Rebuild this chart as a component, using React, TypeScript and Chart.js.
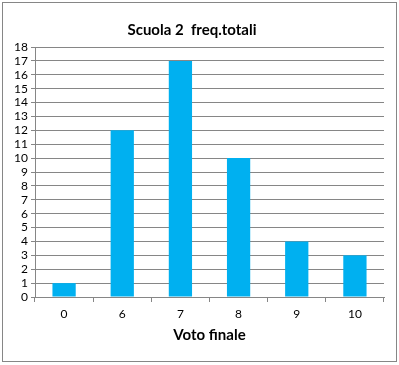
import React, { useEffect, useRef } from "react";
import { Chart, registerables } from "chart.js";

Chart.register(...registerables);

const categories = ["0", "6", "7", "8", "9", "10"];
const frequencies = [1, 12, 17, 10, 4, 3];
const chartTitle = "Scuola 2  freq.totali";
const xAxisTitle = "Voto finale";

const FONT = "Lato, 'Open Sans', sans-serif";
const GRAY = "#868686";

const borderPlugin = {
  id: "outerBorder",
  beforeDraw(chart: any) {
    const ctx = chart.ctx;
    ctx.save();
    ctx.fillStyle = "#ffffff";
    ctx.fillRect(0, 0, chart.width, chart.height);
    ctx.strokeStyle = GRAY;
    ctx.lineWidth = 1;
    ctx.strokeRect(2.5, 2.5, 394, 359);
    ctx.restore();
  },
};

export default function App() {
  const ref = useRef<HTMLCanvasElement | null>(null);
  useEffect(() => {
    if (!ref.current) return;
    const chart = new Chart(ref.current, {
      type: "bar",
      data: {
        labels: categories,
        datasets: [
          {
            data: frequencies,
            backgroundColor: "#00B0F0",
            borderWidth: 0,
            barPercentage: 0.4,
            categoryPercentage: 1,
          },
        ],
      },
      options: {
        animation: false,
        responsive: false,
        maintainAspectRatio: false,
        layout: { padding: { left: 0, right: 15, top: 0, bottom: 0 } },
        plugins: {
          legend: { display: false },
          tooltip: { enabled: false },
          title: {
            display: true,
            text: chartTitle,
            color: "#000000",
            font: { family: FONT, size: 15, weight: "bold", lineHeight: 1.2 },
            padding: { top: 21, bottom: 8 },
          },
        },
        scales: {
          x: {
            grid: {
              display: true,
              drawOnChartArea: false,
              drawTicks: true,
              tickLength: 5,
              color: GRAY,
              offset: true,
            },
            border: { display: true, color: GRAY },
            ticks: {
              color: "#000000",
              font: { family: FONT, size: 12 },
              padding: 5,
              maxRotation: 0,
              autoSkip: false,
            },
            title: {
              display: true,
              text: xAxisTitle,
              color: "#000000",
              font: { family: FONT, size: 15, weight: "bold", lineHeight: 1.2 },
              padding: { top: 0, bottom: 21 },
            },
            afterFit: (s: any) => {
              s.height = 68;
            },
          },
          y: {
            min: 0,
            max: 18,
            grid: {
              color: GRAY,
              drawTicks: true,
              tickLength: 4,
            },
            border: { display: true, color: GRAY },
            ticks: {
              stepSize: 1,
              color: "#000000",
              font: { family: FONT, size: 12 },
              padding: 3,
              autoSkip: false,
            },
            afterFit: (s: any) => {
              s.width = 35;
            },
          },
        },
      },
      plugins: [borderPlugin],
    });
    return () => chart.destroy();
  }, []);
  return (
    <div style={{ position: "absolute", left: 0, top: 0, width: 399, height: 365 }}>
      <canvas ref={ref} width={399} height={365} style={{ display: "block" }} />
    </div>
  );
}
